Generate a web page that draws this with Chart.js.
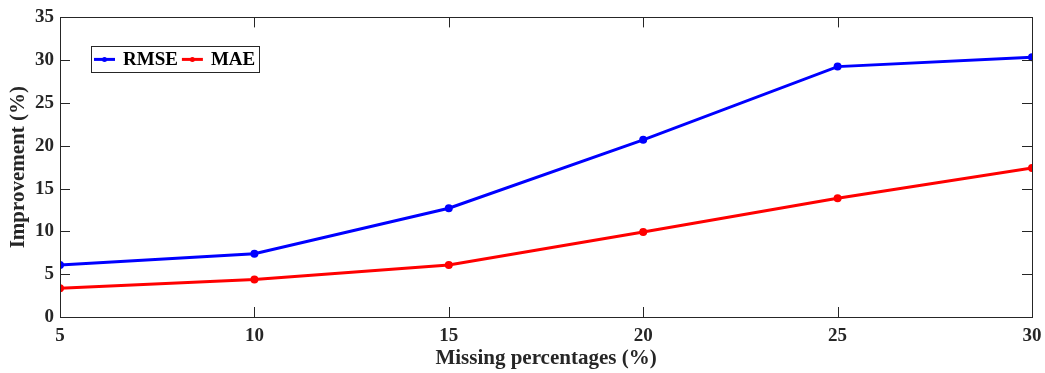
<!DOCTYPE html>
<html lang="en">
  <head>
    <meta charset="UTF-8" />
    <title>Improvement vs missing percentage</title>
    <script src="https://cdn.jsdelivr.net/npm/chart.js"></script>
    <style>
      * {
        margin: 0;
        padding: 0;
      }
      body {
        background: #fff;
      }
      .graph {
        width: 1045px;
        height: 373px;
      }
    </style>
  </head>
  <body>
    <div class="graph">
      <canvas id="chartline"></canvas>
    </div>

    <script>
      /*====  DATA ============================ */
      const missing = [5, 10, 15, 20, 25, 30];
      const rmse = [6.08, 7.4, 12.7, 20.7, 29.25, 30.35];
      const mae = [3.37, 4.37, 6.08, 9.93, 13.87, 17.4];
      const yTicks = [0, 5, 10, 15, 20, 25, 30, 35];

      const FONT = '"Liberation Serif", "Times New Roman", serif';
      const AXIS = '#262626';

      // box around the plot with ticks pointing inwards on all four sides
      const boxTicks = {
        id: 'boxTicks',
        afterDraw(chart) {
          const { ctx, chartArea: a, scales } = chart;
          const len = 10;
          ctx.save();
          ctx.strokeStyle = AXIS;
          ctx.lineWidth = 1;
          ctx.beginPath();
          scales.x.ticks.forEach((t) => {
            const px = Math.round(scales.x.getPixelForValue(t.value)) + 0.5;
            ctx.moveTo(px, a.bottom);
            ctx.lineTo(px, a.bottom - len);
            ctx.moveTo(px, a.top);
            ctx.lineTo(px, a.top + len);
          });
          scales.y.ticks.forEach((t) => {
            const py = Math.round(scales.y.getPixelForValue(t.value)) + 0.5;
            ctx.moveTo(a.left, py);
            ctx.lineTo(a.left + len, py);
            ctx.moveTo(a.right, py);
            ctx.lineTo(a.right - len, py);
          });
          ctx.stroke();
          ctx.strokeRect(
            Math.round(a.left) + 0.5,
            Math.round(a.top) + 0.5,
            Math.round(a.right - a.left),
            Math.round(a.bottom - a.top)
          );
          ctx.restore();
        }
      };

      // framed legend sitting inside the plot, top-left
      const boxLegend = {
        id: 'boxLegend',
        afterDraw(chart) {
          const { ctx, chartArea: a } = chart;
          const x0 = a.left + 31;
          const y0 = a.top + 29;
          const h = 26;
          ctx.save();
          ctx.font = 'bold 19px ' + FONT;
          ctx.textBaseline = 'middle';
          let x = x0 + 3;
          const cy = y0 + h / 2;
          chart.data.datasets.forEach((ds) => {
            ctx.strokeStyle = ds.borderColor;
            ctx.lineWidth = 3;
            ctx.beginPath();
            ctx.moveTo(x, cy);
            ctx.lineTo(x + 21, cy);
            ctx.stroke();
            ctx.fillStyle = ds.borderColor;
            ctx.beginPath();
            ctx.arc(x + 10.5, cy, 2.5, 0, Math.PI * 2);
            ctx.fill();
            ctx.fillStyle = '#000';
            ctx.fillText(ds.label, x + 29, cy + 1);
            x += 29 + ctx.measureText(ds.label).width + 4;
          });
          ctx.strokeStyle = AXIS;
          ctx.lineWidth = 1;
          ctx.strokeRect(Math.round(x0) + 0.5, Math.round(y0) + 0.5, Math.round(x - x0), h);
          ctx.restore();
        }
      };

      /*====  GRAFICO LINHAS ============================ */
      const ctx = document.getElementById('chartline').getContext('2d');
      new Chart(ctx, {
        type: 'line',
        data: {
          datasets: [
            {
              label: 'RMSE',
              data: missing.map((m, i) => ({ x: m, y: rmse[i] })),
              borderColor: '#0000ff',
              backgroundColor: '#0000ff',
              borderWidth: 3,
              pointRadius: 2.5,
              pointHoverRadius: 2.5
            },
            {
              label: 'MAE',
              data: missing.map((m, i) => ({ x: m, y: mae[i] })),
              borderColor: '#ff0000',
              backgroundColor: '#ff0000',
              borderWidth: 3,
              pointRadius: 2.5,
              pointHoverRadius: 2.5
            }
          ]
        },
        plugins: [boxTicks, boxLegend],
        options: {
          responsive: true,
          maintainAspectRatio: false,
          animation: false,
          layout: { padding: { top: 16, right: 13, left: 0, bottom: 0 } },
          plugins: {
            legend: { display: false },
            tooltip: { enabled: false }
          },
          scales: {
            x: {
              type: 'linear',
              min: 5,
              max: 30,
              afterBuildTicks: (s) => {
                s.ticks = missing.map((v) => ({ value: v }));
              },
              afterFit: (s) => {
                s.height = 56;
                s.paddingLeft = 0;
                s.paddingRight = 0;
              },
              grid: { display: false, drawTicks: false },
              border: { display: false },
              ticks: {
                color: '#262626',
                padding: 8,
                maxRotation: 0,
                font: { family: FONT, size: 19, weight: 'bold' }
              },
              title: {
                display: true,
                text: 'Missing percentages (%)',
                color: '#262626',
                padding: { top: 0, bottom: 2 },
                font: { family: FONT, size: 21, weight: 'bold' }
              }
            },
            y: {
              min: 0,
              max: 35,
              afterBuildTicks: (s) => {
                s.ticks = yTicks.map((v) => ({ value: v }));
              },
              afterFit: (s) => {
                s.width = 60;
              },
              grid: { display: false, drawTicks: false },
              border: { display: false },
              ticks: {
                color: '#262626',
                padding: 6,
                font: { family: FONT, size: 19, weight: 'bold' }
              },
              title: {
                display: true,
                text: 'Improvement (%)',
                color: '#262626',
                padding: { top: 6, bottom: 0 },
                font: { family: FONT, size: 21, weight: 'bold' }
              }
            }
          }
        }
      });
    </script>
  </body>
</html>
